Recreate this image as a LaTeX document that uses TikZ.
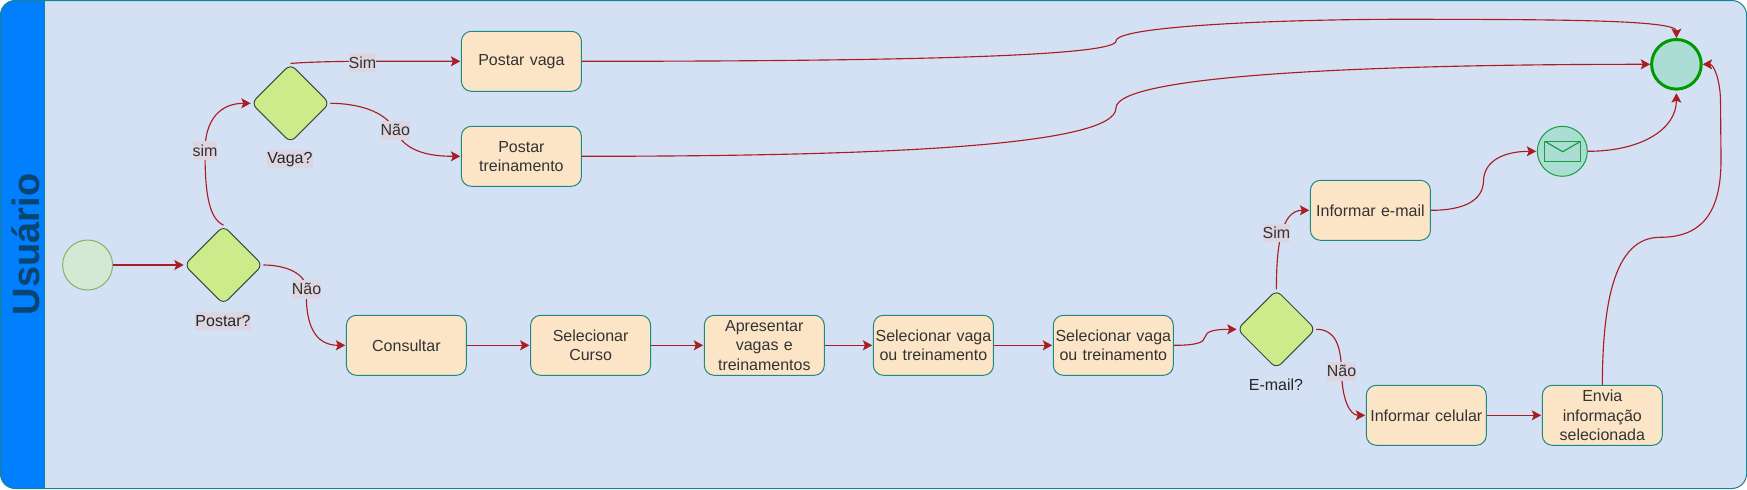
\documentclass[tikz,border=0pt]{standalone}
\usepackage{fontspec}
\setmainfont{Liberation Sans}
\usetikzlibrary{arrows.meta,shapes.geometric,calc}
\definecolor{pagebg}{HTML}{D4E1F5}
\definecolor{band}{HTML}{007FFF}
\definecolor{frame}{HTML}{1A8291}
\definecolor{titlec}{HTML}{0A4470}
\definecolor{boxfill}{HTML}{FCE5C6}
\definecolor{boxline}{HTML}{1C8A80}
\definecolor{dfill}{HTML}{CDEB8B}
\definecolor{dline}{HTML}{36503D}
\definecolor{edgec}{HTML}{A81E22}
\definecolor{txt}{HTML}{333333}
\definecolor{lblbg}{HTML}{DDD6E0}
\definecolor{startf}{HTML}{D5E8D4}
\definecolor{startl}{HTML}{82B366}
\definecolor{endf}{HTML}{ACDDD5}
\definecolor{endl}{HTML}{009900}
\definecolor{msgl}{HTML}{14A03C}
\tikzset{
  x=0.75pt,y=-0.75pt,
  procbox/.style={draw=boxline,fill=boxfill,line width=0.75pt,rounded corners=7.5pt,
    minimum width=90pt,minimum height=45pt,inner sep=0pt,text width=89.5pt,align=center,
    text=txt,font=\fontsize{12}{14.5}\selectfont},
  decision/.style={diamond,draw=dline,fill=dfill,line width=0.75pt,rounded corners=5pt,
    minimum width=59pt,minimum height=59pt,inner sep=0pt,aspect=1},
  flow/.style={draw=edgec,line width=0.85pt,-{Stealth[length=7pt,width=7.5pt,inset=1.5pt]}},
  edgelabel/.style={fill=lblbg,text=txt,inner xsep=0pt,inner ysep=0pt,minimum height=14pt,font=\fontsize{12}{14}\selectfont},
  declabel/.style={fill=lblbg,text=black!85,inner xsep=0pt,inner ysep=0pt,minimum height=13.5pt,font=\fontsize{12}{14}\selectfont},
  startev/.style={circle,draw=startl,fill=startf,line width=0.75pt,minimum size=37.5pt,inner sep=0pt},
  endev/.style={circle,draw=endl,fill=endf,line width=2.25pt,minimum size=37.2pt,inner sep=0pt},
  msgev/.style={circle,draw=msgl,fill=endf,line width=0.75pt,minimum size=37.5pt,inner sep=0pt},
}
\begin{document}
\begin{tikzpicture}
\useasboundingbox (0,0) rectangle (1747,489);
% pool
\path[fill=pagebg,rounded corners=11pt] (0.5,0.5) rectangle (1746.5,488.5);
\begin{scope}
\clip[rounded corners=11pt] (0.5,0.5) rectangle (1746.5,488.5);
\path[fill=band] (0,0) rectangle (44.6,489);
\end{scope}
\path[draw=frame,line width=0.75pt] (44.6,0.5) -- (44.6,488.5);
\path[draw=frame,line width=0.75pt,rounded corners=11pt] (0.5,0.5) rectangle (1746.5,488.5);
\node[rotate=90,text=titlec,font=\fontsize{28.5}{30}\selectfont\bfseries,inner sep=0pt] (pool) at (26,244.5) {Usuário};
% nodes
\node[startev] (start) at (87.6,265) {};
\node[decision] (postar) at (223.5,265) {};
\node[decision] (vaga) at (290.5,103.3) {};
\node[decision] (email) at (1276.4,329.3) {};
\node[procbox] (pv) at (521.4,61.3) {Postar vaga};
\node[procbox] (pt) at (521.4,156.3) {Postar\\treinamento};
\node[procbox] (cons) at (406.4,345.3) {Consultar};
\node[procbox] (curso) at (590.6,345.3) {Selecionar\\Curso};
\node[procbox] (apr) at (764.3,345.3) {Apresentar\\vagas e\\treinamentos};
\node[procbox] (sel1) at (933.4,345.3) {Selecionar vaga\\ou treinamento};
\node[procbox] (sel2) at (1113.3,345.3) {Selecionar vaga\\ou treinamento};
\node[procbox] (infe) at (1370.4,210.3) {Informar e-mail};
\node[procbox] (infc) at (1426.3,415.3) {Informar celular};
\node[procbox] (envia) at (1602.3,415.3) {Envia\\informação\\selecionada};
\node[msgev] (msg) at (1562.3,151.3) {};
\node[endev] (fim) at (1676.4,64.3) {};
\node[declabel] (lpostar) at (223,321.3) {Postar?};
\node[declabel] (lvaga) at (290,159.3) {Vaga?};
\node[font=\fontsize{12}{14}\selectfont,text=black!85,inner sep=0pt] (lemail) at (1276,385) {E-mail?};
% envelope
\draw[draw=msgl,line width=0.9pt] (1544.7,141.3) rectangle (1580.7,161.3);
\draw[draw=msgl,line width=0.9pt] (1544.7,141.3) -- (1562.7,151.7) -- (1580.7,141.3);
% waypoints
\coordinate (k1) at (1116,41);
\coordinate (k1b) at (1397,19.3);
\coordinate (k2) at (1116,108);
\coordinate (k3) at (1205,337);
\coordinate (k4) at (1483.5,181);
\coordinate (k5) at (1660,237.3);
\coordinate (k6) at (1721,160);
\coordinate (k7) at (1720.5,100);
\coordinate (a1) at (205,150.7);
\coordinate (a2) at (395.3,130.3);
\coordinate (a3) at (306.5,289.3);
\coordinate (a4) at (1341.5,371.3);
% connectors
\draw[flow] (start) -- (postar);
\draw[flow] (postar.north) .. controls (208,218) and (205,190) .. (a1) .. controls (205,120) and (220,103.3) .. (vaga.west);
\draw[flow,shorten >=0.5pt] (vaga.north) .. controls (300,62.5) and (330,61.3) .. (362.4,61.3) -- (pv.west);
\draw[flow,shorten >=0.5pt] (vaga.east) .. controls (355,103.3) and (385,110) .. (a2) .. controls (405,152) and (430,156.3) .. (pt.west);
\draw[flow,shorten >=0.5pt] (postar.east) .. controls (285,265) and (306,273) .. (a3) .. controls (305,325) and (315,345.3) .. (cons.west);
\draw[flow,shorten >=0.5pt] (cons) -- (curso);
\draw[flow,shorten >=0.5pt] (curso) -- (apr);
\draw[flow,shorten >=0.5pt] (apr) -- (sel1);
\draw[flow,shorten >=0.5pt] (sel1) -- (sel2);
\draw[flow] (sel2.east) .. controls (1195,345.3) and (1204,343) .. (k3) .. controls (1206,331) and (1215,329.3) .. (email.west);
\draw[flow,shorten >=0.5pt] (email.north) .. controls (1276.4,250) and (1280,210.3) .. (infe.west);
\draw[flow,shorten >=0.5pt] (email.east) .. controls (1335,329.3) and (1341,345) .. (a4) .. controls (1342,400) and (1350,415.3) .. (infc.west);
\draw[flow,shorten >=0.5pt] (infc) -- (envia);
\draw[flow,shorten >=0.5pt] (infe.east) .. controls (1465,210.3) and (1483,200) .. (k4) .. controls (1484,160) and (1505,151.3) .. (msg.west);
\draw[flow,shorten >=2pt] (msg.east) .. controls (1640,151.3) and (1676.4,130) .. (fim.south);
\draw[flow] (pv.east) .. controls (880,61.3) and (1116,57) .. (k1) .. controls (1116,25) and (1300,19.3) .. (k1b) .. controls (1560,19.3) and (1676.4,20) .. (fim.north);
\draw[flow] (pt.east) .. controls (880,156.3) and (1116,146) .. (k2) .. controls (1116,75) and (1370,64.3) .. (fim.west);
\draw[flow] (envia.north) .. controls (1602.7,300) and (1615,237.3) .. (k5) .. controls (1700,237.3) and (1721,215) .. (k6) -- (k7) .. controls (1720,80) and (1714,64.3) .. (fim.east);
% edge labels
\node[edgelabel] (lsim1) at (362.4,62.3) {Sim};
\node[edgelabel] (lnao1) at (395.3,130.3) {Não};
\node[edgelabel] (lsim0) at (205,150.7) {sim};
\node[edgelabel] (lnao0) at (306.5,289.3) {Não};
\node[edgelabel] (lsim2) at (1276.4,233) {Sim};
\node[edgelabel] (lnao2) at (1341.5,371.3) {Não};
\end{tikzpicture}
\end{document}
